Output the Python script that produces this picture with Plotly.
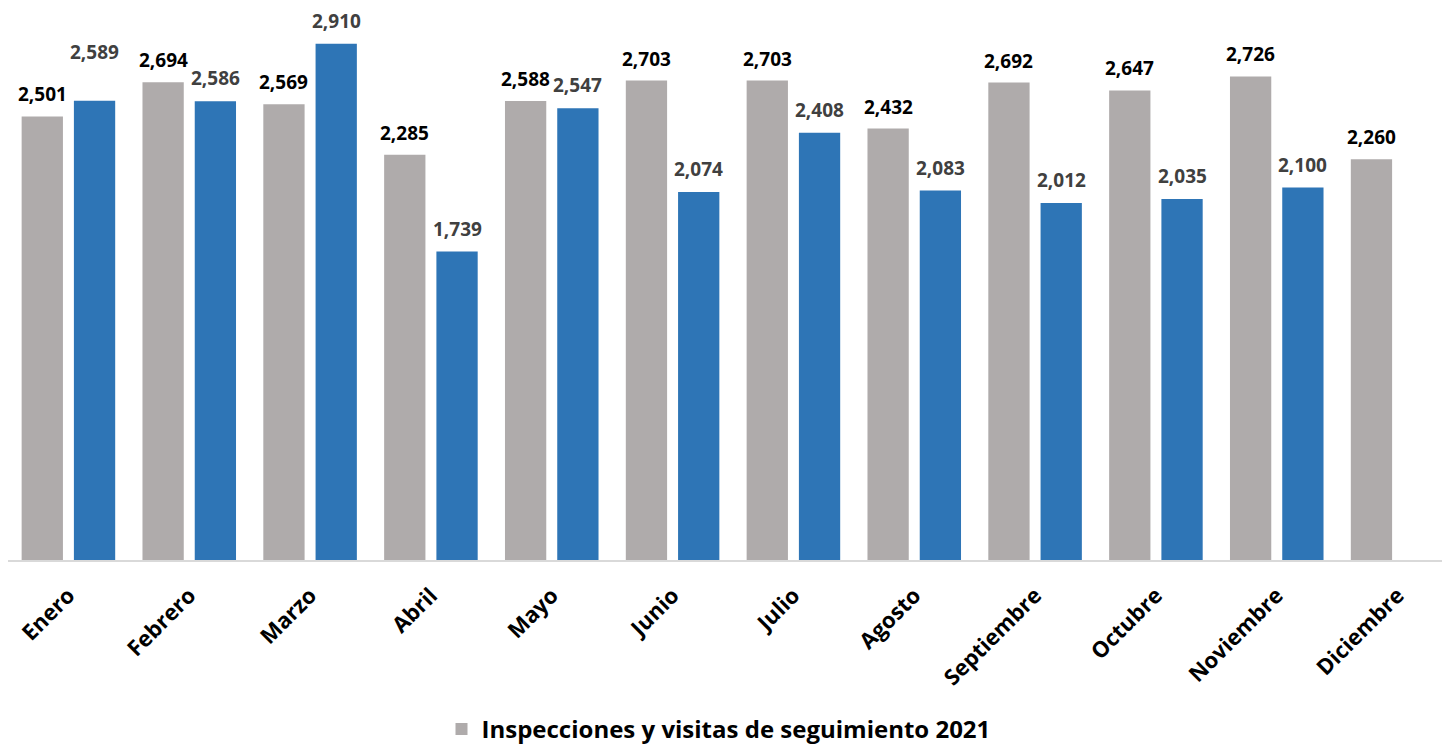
import plotly.graph_objects as go

months = ["Enero", "Febrero", "Marzo", "Abril", "Mayo", "Junio", "Julio",
          "Agosto", "Septiembre", "Octubre", "Noviembre", "Diciembre"]
serie_2021 = [2501, 2694, 2569, 2285, 2588, 2703, 2703, 2432, 2692, 2647, 2726, 2260]
serie_2022 = [2589, 2586, 2910, 1739, 2547, 2074, 2408, 2083, 2012, 2035, 2100]
legend_2021 = "Inspecciones y visitas de seguimiento 2021"

GREY = "#AFABAB"
BLUE = "#2E75B6"
FONT = "Open Sans"

fig = go.Figure()
fig.add_trace(go.Bar(x=months, y=serie_2021, name=legend_2021,
                     marker=dict(color=GREY, line=dict(width=0))))
fig.add_trace(go.Bar(x=months[:len(serie_2022)], y=serie_2022, name="2022",
                     showlegend=False, marker=dict(color=BLUE, line=dict(width=0))))

off = 0.216
for i, v in enumerate(serie_2021):
    fig.add_annotation(x=i - off, y=v, xref="x", yref="y", text=f"{v:,}",
                       showarrow=False, yanchor="middle", yshift=22,
                       font=dict(family=FONT, size=19, color="#000000", weight="bold"))
for i, v in enumerate(serie_2022):
    shift = 49 if i == 0 else 23
    fig.add_annotation(x=i + off, y=v, xref="x", yref="y", text=f"{v:,}",
                       showarrow=False, yanchor="middle", yshift=shift,
                       font=dict(family=FONT, size=19, color="#404040", weight="bold"))

fig.update_layout(
    width=1450, height=744,
    margin=dict(l=0, r=0, t=0, b=191),
    plot_bgcolor="white", paper_bgcolor="white",
    barmode="group", bargap=0.135, bargroupgap=0.21,
    font=dict(family=FONT, color="#000000"),
    showlegend=True,
    legend=dict(orientation="h", x=0.49, xanchor="center", y=-0.307, yanchor="middle",
                font=dict(family=FONT, size=24, color="#000000", weight="bold"),
                itemwidth=30),
    xaxis=dict(type="category", showgrid=False, showline=True, linecolor="#D9D9D9",
               linewidth=2, ticks="", tickangle=-45, automargin=False,
               ticklabelstandoff=12,
               tickfont=dict(family=FONT, size=22, color="#000000", weight="bold")),
    yaxis=dict(visible=False, range=[0, 3112], showgrid=False, zeroline=False,
               automargin=False),
)

fig.write_html("out.html")
